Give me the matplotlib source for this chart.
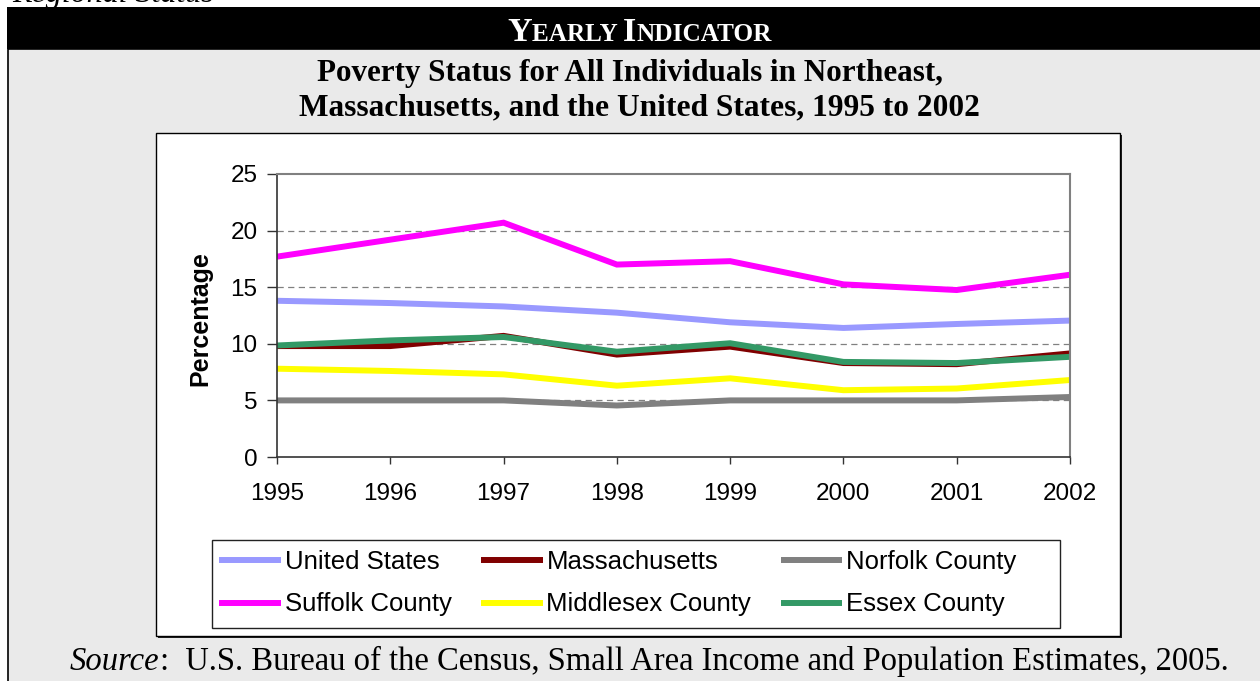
import matplotlib
matplotlib.use('Agg')
import matplotlib.pyplot as plt
from matplotlib.patches import Rectangle
from matplotlib.text import Annotation

# data
years = [1995, 1996, 1997, 1998, 1999, 2000, 2001, 2002]
us = [13.8, 13.6, 13.3, 12.75, 11.9, 11.4, 11.75, 12.05]
mass = [9.8, 9.8, 10.7, 9.05, 9.75, 8.3, 8.2, 9.15]
norfolk = [5.0, 5.0, 5.0, 4.55, 5.0, 5.0, 5.0, 5.3]
suffolk = [17.7, 19.2, 20.7, 17.0, 17.3, 15.25, 14.75, 16.1]
middlesex = [7.8, 7.6, 7.3, 6.3, 6.95, 5.9, 6.05, 6.8]
essex = [9.85, 10.3, 10.6, 9.3, 10.05, 8.4, 8.3, 8.85]
yticks = [0, 5, 10, 15, 20, 25]

W, H = 1260, 681
SERIF = 'Liberation Serif'
SANS = 'Liberation Sans'

fig = plt.figure(figsize=(W / 100, H / 100), dpi=100)
fig.patch.set_facecolor('white')


def px(x, y):
    return x / W, 1 - y / H


def rect(x0, y0, x1, y1, **kw):
    r = Rectangle((x0 / W, 1 - y1 / H), (x1 - x0) / W, (y1 - y0) / H,
                  transform=fig.transFigure, **kw)
    fig.patches.append(r)
    return r


def run_text(x, y, parts, color='black'):
    # pieces of text one after another on the same baseline (y in px)
    s, size, weight, style = parts[0]
    t = fig.text(*px(x, y), s, fontsize=size, family=SERIF, fontweight=weight,
                 style=style, color=color, ha='left', va='baseline', zorder=5)
    for s, size, weight, style in parts[1:]:
        t = fig.add_artist(Annotation(
            s, xy=(1, 1 - y / H), xycoords=(t, 'figure fraction'),
            fontsize=size, family=SERIF, fontweight=weight, style=style,
            color=color, ha='left', va='baseline', zorder=5))


# page background pieces
rect(8, 49, W + 2, H + 2, facecolor='#eaeaea', edgecolor='black', lw=1.2, zorder=0)
rect(7, 7, W + 2, 49, facecolor='black', edgecolor='none', zorder=1)
fig.text(*px(12, 2), 'Regional Status', family=SERIF, style='italic',
         fontsize=23, va='baseline', ha='left')

# chart box with shadow
rect(158, 135, 1122, 638, facecolor='#222222', edgecolor='none', zorder=1)
rect(156, 133, 1120, 636, facecolor='white', edgecolor='black', lw=1, zorder=2)

# header in small caps
run_text(507, 41, [('Y', 24.5, 'bold', 'normal'), ('EARLY ', 18.2, 'bold', 'normal'),
                   ('I', 24.5, 'bold', 'normal'), ('NDICATOR', 18.2, 'bold', 'normal')],
         color='white')

fig.text(*px(630, 81), 'Poverty Status for All Individuals in Northeast,',
         family=SERIF, fontweight='bold', fontsize=22.4, ha='center', va='baseline')
fig.text(*px(639, 115), 'Massachusetts, and the United States, 1995 to 2002',
         family=SERIF, fontweight='bold', fontsize=22.6, ha='center', va='baseline')

run_text(70, 670, [('Source', 23.5, 'normal', 'italic'),
                   (':  U.S. Bureau of the Census, Small Area Income and '
                    'Population Estimates, 2005.', 23.5, 'normal', 'normal')])

# plot area
x0, y0 = px(277, 457)
x1, y1 = px(1070, 174)
ax = fig.add_axes([x0, y0, x1 - x0, y1 - y0])
ax.set_zorder(3)

series = [
    ('United States', us, '#9999ff'),
    ('Massachusetts', mass, '#800000'),
    ('Norfolk County', norfolk, '#808080'),
    ('Suffolk County', suffolk, '#ff00ff'),
    ('Middlesex County', middlesex, '#ffff00'),
    ('Essex County', essex, '#339966'),
]
handles = {}
for name, vals, c in series:
    handles[name], = ax.plot(years, vals, color=c, lw=4.3, label=name,
                             solid_capstyle='butt', solid_joinstyle='miter')

ax.set_xlim(years[0], years[-1])
ax.set_ylim(0, 25)
ax.set_xticks(years)
ax.set_yticks(yticks)
for v in yticks[1:-1]:
    ax.axhline(v, color='#808080', lw=0.9, dashes=(5, 3.5), zorder=0)
for side in ['top', 'right']:
    ax.spines[side].set_color('#808080')
    ax.spines[side].set_linewidth(1.5)
for side in ['left', 'bottom']:
    ax.spines[side].set_color('#333333')
    ax.spines[side].set_linewidth(1.2)
ax.tick_params(axis='y', direction='out', length=7, width=1, color='#333333',
               pad=7, labelsize=17.5)
ax.tick_params(axis='x', direction='out', length=5, width=1, color='#333333',
               pad=14, labelsize=17.5)
for lab in ax.get_xticklabels() + ax.get_yticklabels():
    lab.set_family(SANS)
ax.set_ylabel('Percentage', family=SANS, fontweight='bold', fontsize=18)
ax.yaxis.set_label_coords(-0.081, 0.49)

# legend, matplotlib fills by column so reorder to get rows like the original
order = ['United States', 'Suffolk County', 'Massachusetts',
         'Middlesex County', 'Norfolk County', 'Essex County']
leg = fig.legend([handles[n] for n in order], order, ncol=3,
                 loc='upper left', bbox_to_anchor=px(219, 550),
                 frameon=False, prop={'family': SANS, 'size': 18.5},
                 handlelength=2.4, handletextpad=0.15, columnspacing=1.15,
                 labelspacing=0.72, borderpad=0, borderaxespad=0)
leg.set_zorder(6)
rect(212, 540, 1060, 628, facecolor='white', edgecolor='#222222', lw=1, zorder=2.5)

fig.savefig('out.png', dpi=100)
